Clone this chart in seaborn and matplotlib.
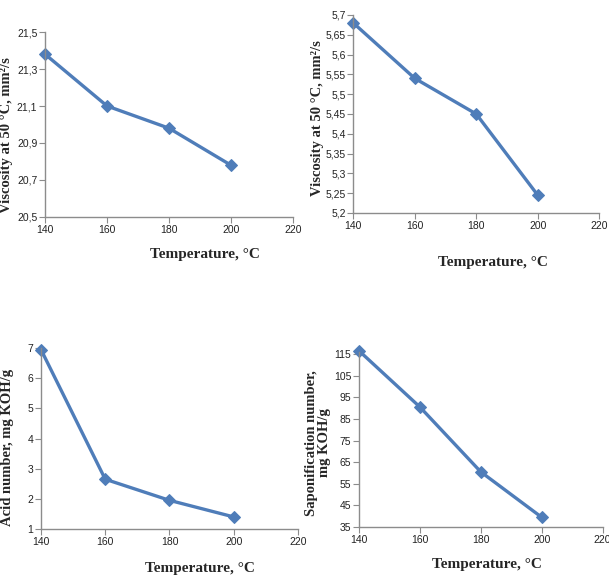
import matplotlib
matplotlib.use("Agg")
import matplotlib.pyplot as plt
import seaborn as sns
import pandas as pd
from matplotlib.ticker import FuncFormatter

temps = [140, 160, 180, 200]
visc_a = [21.38, 21.10, 20.98, 20.78]
visc_b = [5.68, 5.54, 5.45, 5.245]
acid = [6.95, 2.65, 1.95, 1.40]
sapon = [116.5, 90.5, 60.5, 39.5]

x_ticks = [140, 160, 180, 200, 220]
yticks_a = [20.5, 20.7, 20.9, 21.1, 21.3, 21.5]
yticks_b = [5.2, 5.25, 5.3, 5.35, 5.4, 5.45, 5.5, 5.55, 5.6, 5.65, 5.7]
yticks_c = [1, 2, 3, 4, 5, 6, 7]
yticks_d = [35, 45, 55, 65, 75, 85, 95, 105, 115]

ylabel_a = "Viscosity at 50 °C, mm²/s"
ylabel_b = "Viscosity at 50 °C, mm²/s"
ylabel_c = "Acid number, mg KOH/g"
ylabel_d = "Saponification number,\nmg KOH/g"
xlabel = "Temperature, °C"

sns.set_style("white")
plt.rcParams["font.family"] = ["Liberation Sans", "DejaVu Sans"]

fig = plt.figure(figsize=(6.09, 5.78), dpi=100)

color = "#4F7DB9"

panels = [
    # values, yticks, ylim, ylabel, axes rect, ylabel x, ylabel y, xlabel y, xlabel x (fig fractions)
    (visc_a, yticks_a, (20.5, 21.5), ylabel_a, [0.074, 0.6246, 0.407, 0.320], 0.011, 0.766, 0.548, 0.337),
    (visc_b, yticks_b, (5.2, 5.7), ylabel_b, [0.580, 0.6315, 0.404, 0.3426], 0.521, 0.796, 0.535, 0.810),
    (acid, yticks_c, (1, 7), ylabel_c, [0.0673, 0.0848, 0.422, 0.313], 0.012, 0.2266, 0.005, 0.328),
    (sapon, yticks_d, (35, 116), ylabel_d, [0.5895, 0.0882, 0.40, 0.303], 0.522, 0.234, 0.012, 0.800),
]

def fmt(v, pos):
    s = ("%.2f" % v).rstrip("0").rstrip(".")
    return s.replace(".", ",")

for vals, yt, ylim, ylab, rect, ylx, yly, xly, xlx in panels:
    ax = fig.add_axes(rect)
    df = pd.DataFrame({"T": temps, "v": vals})
    sns.lineplot(data=df, x="T", y="v", ax=ax, color=color, linewidth=2.4,
                 marker="D", markersize=6.5, markeredgecolor=color,
                 markerfacecolor=color, clip_on=False)
    ax.set_xlim(140, 220)
    ax.set_ylim(*ylim)
    ax.set_xticks(x_ticks)
    ax.set_yticks(yt)
    ax.yaxis.set_major_formatter(FuncFormatter(fmt))
    ax.set_xlabel("")
    ax.set_ylabel("")
    for s in ["top", "right"]:
        ax.spines[s].set_visible(False)
    for s in ["left", "bottom"]:
        ax.spines[s].set_color("#8c8c8c")
        ax.spines[s].set_linewidth(1.0)
    ax.tick_params(axis="both", direction="out", length=4, width=0.8,
                   color="#8c8c8c", labelsize=7.5, labelcolor="#222222", pad=1.5,
                   left=True, bottom=True)
    fig.text(ylx, yly, ylab, rotation=90, ha="center", va="center",
             family=["Liberation Serif", "DejaVu Serif"], fontweight="bold", fontsize=10.5,
             linespacing=0.95)
    fig.text(xlx, xly, xlabel, ha="center", va="bottom",
             family=["Liberation Serif", "DejaVu Serif"], fontweight="bold", fontsize=11)

fig.savefig("out.png", dpi=100)
